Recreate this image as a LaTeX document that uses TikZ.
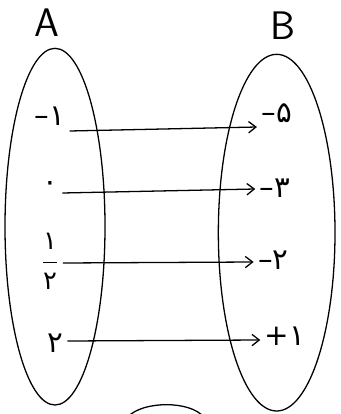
\documentclass[tikz,border=0pt]{standalone}
\usepackage{fontspec}
\usepackage{amsmath}
\newfontfamily\fafont{DejaVu Sans}
\usetikzlibrary{arrows.meta, positioning, shapes.geometric}

\begin{document}
\begin{tikzpicture}[line width=1.1pt, font=\fafont\fontsize{25}{28}\selectfont]
  \useasboundingbox (0,0) rectangle (10.23,-12.42);
  \begin{scope}
    \clip (0,0) rectangle (10.23,-12.42);
    % the two sets
    \node[draw, ellipse, minimum width=3cm, minimum height=10.7cm] (setA) at (1.65,-6.8) {};
    \node[draw, ellipse, minimum width=3.5cm, minimum height=10.7cm] (setB) at (8.3,-6.98) {};
    \draw (3.84,-12.5) .. controls (4.3,-12.02) and (5.7,-12.02) .. (6.1,-12.5);
  \end{scope}
  \node[font=\sffamily\fontsize{34}{34}\selectfont] (lblA) at (1.41,-0.68) {A};
  \node[font=\sffamily\fontsize{34}{34}\selectfont] (lblB) at (8.49,-0.76) {B};

  % elements
  \node (a1) at (1.5,-3.5) {–۱};
  \node (a2) at (1.5,-5.6) {۰};
  \node (a3) at (1.5,-7.85) {$\dfrac{\hbox{\fafont\fontsize{22}{24}\selectfont ۱}}{\hbox{\fafont\fontsize{22}{24}\selectfont ۲}}$};
  \node (a4) at (1.65,-10.3) {۲};
  \node (b1) at (8.3,-3.4) {–۵};
  \node (b2) at (8.25,-5.65) {–۳};
  \node (b3) at (8.2,-7.82) {–۲};
  \node (b4) at (8.55,-10.1) {+۱};

  \foreach \i/\ya/\yb in {1/-0.43/-0.41, 2/-0.19/-0.02, 3/-0.04/-0.04, 4/0.07/-0.1} {
    \draw[-{Straight Barb[length=0.22cm, width=0.34cm]}] ([yshift=\ya cm]a\i.east) -- ([yshift=\yb cm]b\i.west);
  }
\end{tikzpicture}
\end{document}
